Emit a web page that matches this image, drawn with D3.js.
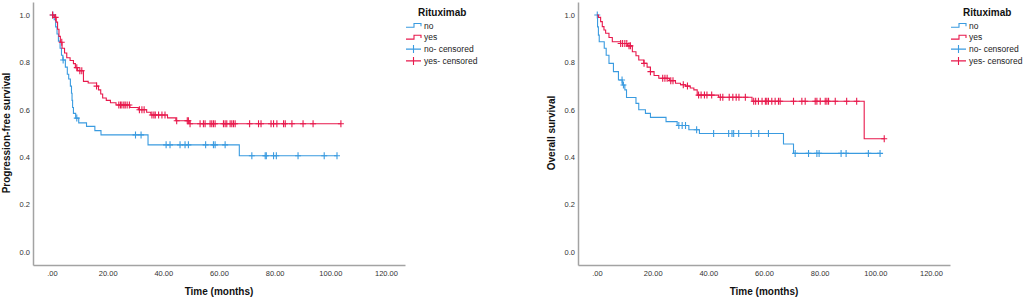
<!DOCTYPE html>
<html><head><meta charset="utf-8">
<script src="https://cdn.jsdelivr.net/npm/d3@7"></script>
<style>body{margin:0;background:#fff;} svg{display:block;font-family:"Liberation Sans",Arial,sans-serif;}</style>
</head><body><svg id="c" width="1024" height="300"></svg>
<script>
// ---- tick labels / text ----
const xTicks = [0, 20, 40, 60, 80, 100, 120];
const yTicks = [0, 0.2, 0.4, 0.6, 0.8, 1.0];
const legendTitle = "Rituximab";
const legendLabels = ["no", "yes", "no- censored", "yes- censored"];
const yTitles = ["Progression-free survival", "Overall survival"];
const xTitle = "Time (months)";

// ---- Progression-free survival, Rituximab = no ----
const pfsNoT = [0, 0.8, 1.3, 1.8, 2.3, 2.9, 3.4, 3.9, 4.8, 5.5, 6.0, 6.6, 7.0, 7.2, 7.4, 7.7, 8.5, 9.6, 12.4, 15.4, 17.6, 34.5, 67.3];
const pfsNoS = [1.0, 0.98, 0.95, 0.92, 0.89, 0.86, 0.83, 0.81, 0.78, 0.75, 0.73, 0.70, 0.67, 0.64, 0.61, 0.585, 0.565, 0.545, 0.53, 0.512, 0.494, 0.452, 0.406];
const pfsNoC = [0.3, 4.0, 8.9, 30.0, 32.0, 41.0, 42.4, 46.0, 47.8, 49.0, 55.2, 58.0, 58.6, 62.2, 71.8, 76.6, 77.0, 79.6, 80.6, 88.4, 97.8, 102.4];

// ---- Progression-free survival, Rituximab = yes ----
const pfsYesT = [0, 0.8, 1.5, 2.0, 2.5, 3.0, 3.6, 4.5, 5.3, 6.5, 7.7, 8.4, 9.2, 11.3, 13.0, 16.0, 16.7, 17.5, 18.2, 19.5, 21.0, 23.0, 28.0, 31.0, 34.0, 35.5, 41.5, 44.5, 49.5];
const pfsYesS = [1.0, 0.99, 0.97, 0.94, 0.91, 0.885, 0.86, 0.84, 0.82, 0.808, 0.795, 0.778, 0.765, 0.72, 0.713, 0.70, 0.684, 0.667, 0.65, 0.64, 0.63, 0.62, 0.61, 0.60, 0.59, 0.578, 0.566, 0.554, 0.541];
const pfsYesC = [0.2, 1.3, 3.5, 8.9, 10.0, 10.7, 16.0, 24.0, 24.6, 25.1, 25.8, 26.3, 27.0, 27.8, 31.4, 32.3, 33.1, 35.9, 36.6, 37.1, 38.3, 39.5, 40.6, 44.8, 48.6, 49.0, 49.6, 53.2, 54.4, 55.0, 56.8, 57.4, 58.0, 58.6, 61.6, 62.2, 62.8, 64.0, 64.6, 65.2, 65.8, 71.0, 74.2, 75.1, 78.7, 79.6, 80.8, 83.2, 83.8, 86.2, 90.2, 93.8, 103.8];

// ---- Overall survival, Rituximab = no ----
const osNoT = [0, 0.2, 0.5, 0.8, 2.6, 3.3, 4.3, 5.9, 7.7, 9.1, 10.0, 10.6, 14.0, 15.0, 17.4, 19.2, 24.8, 28.8, 33.0, 36.8, 67.0, 70.6];
const osNoS = [1.0, 0.95, 0.915, 0.887, 0.86, 0.83, 0.796, 0.761, 0.726, 0.705, 0.684, 0.652, 0.627, 0.60, 0.585, 0.568, 0.55, 0.534, 0.516, 0.50, 0.456, 0.416];
const osNoC = [0.1, 9.0, 9.5, 29.4, 30.6, 31.8, 35.8, 41.9, 47.3, 48.5, 49.1, 50.9, 55.4, 58.1, 61.6, 71.2, 76.0, 79.0, 79.8, 87.7, 89.5, 97.5, 101.7];

// ---- Overall survival, Rituximab = yes ----
const osYesT = [0, 0.5, 1.3, 1.9, 2.5, 3.1, 4.3, 5.5, 8.5, 11.0, 12.7, 14.0, 15.0, 16.8, 18.0, 19.2, 20.5, 22.2, 26.0, 28.2, 30.0, 31.8, 33.5, 34.8, 36.0, 43.7, 55.7, 96.0];
const osYesS = [1.0, 0.99, 0.972, 0.951, 0.937, 0.923, 0.905, 0.887, 0.88, 0.87, 0.845, 0.828, 0.81, 0.796, 0.78, 0.761, 0.745, 0.733, 0.723, 0.712, 0.706, 0.70, 0.692, 0.684, 0.662, 0.653, 0.636, 0.478];
const osYesC = [8.5, 9.2, 10.0, 10.7, 11.5, 12.0, 16.9, 19.2, 23.6, 24.4, 25.2, 26.5, 27.3, 31.0, 32.5, 36.5, 37.4, 38.6, 39.5, 41.2, 44.3, 45.2, 47.5, 48.8, 50.0, 51.0, 53.3, 56.3, 57.0, 58.0, 59.3, 60.5, 61.0, 61.6, 62.8, 64.0, 65.2, 65.8, 70.6, 73.6, 74.8, 78.4, 79.0, 80.2, 82.0, 82.6, 83.2, 85.6, 89.7, 93.3, 103.2];

const BLUE = "#3a9be0", RED = "#e8194c", AXIS = "#a3a3a3";

const panels = [
  { yTitle: yTitles[0], series: [
    { t: pfsNoT, s: pfsNoS, c: pfsNoC, color: BLUE },
    { t: pfsYesT, s: pfsYesS, c: pfsYesC, color: RED } ] },
  { yTitle: yTitles[1], series: [
    { t: osNoT, s: osNoS, c: osNoC, color: BLUE },
    { t: osYesT, s: osYesS, c: osYesC, color: RED } ] }
];

const svg = d3.select("#c");
const PANEL_W = 545;

panels.forEach((p, i) => {
  const ox = i * PANEL_W;
  const g = svg.append("g").attr("transform", `translate(${ox},0)`);
  const x = d3.scaleLinear().domain([-6.83, 126.83]).range([33, 405]);
  const y = d3.scaleLinear().domain([-0.055, 1.055]).range([265, 2]);

  const xa = g.append("g").attr("transform", "translate(0,265)")
    .call(d3.axisBottom(x).tickValues(xTicks).tickSize(0).tickPadding(6)
      .tickFormat(d => d === 0 ? ".00" : d3.format(".2f")(d)));
  const ya = g.append("g").attr("transform", "translate(33,0)")
    .call(d3.axisLeft(y).tickValues(yTicks).tickSize(0).tickPadding(3)
      .tickFormat(d3.format(".1f")));
  [xa, ya].forEach(a => {
    a.select(".domain").attr("stroke", AXIS).attr("stroke-width", 1.5);
    a.selectAll("text").attr("font-size", "7.5px").attr("fill", "#333").attr("font-family", "Liberation Sans, Arial, sans-serif");
  });

  // curves
  p.series.forEach(s => {
    const pts = s.t.map((t, k) => [t, s.s[k]]);
    const end = Math.max(d3.max(s.c), d3.max(s.t));
    pts.push([end, s.s[s.s.length - 1]]);
    const line = d3.line().x(d => x(d[0])).y(d => y(d[1])).curve(d3.curveStepAfter);
    g.append("path").attr("d", line(pts)).attr("fill", "none")
      .attr("stroke", s.color).attr("stroke-width", 1.1);
    const surv = c => { let v = s.s[0]; s.t.forEach((t, k) => { if (t <= c) v = s.s[k]; }); return v; };
    g.append("g").selectAll("path").data(s.c).join("path")
      .attr("d", c => { const cx = x(c), cy = y(surv(c)); return `M${cx - 3},${cy}h6M${cx},${cy - 3.5}v7`; })
      .attr("stroke", s.color).attr("stroke-width", 1.1).attr("fill", "none");
  });

  // axis titles
  g.append("text").attr("x", 219).attr("y", 295).attr("text-anchor", "middle")
    .attr("font-size", "10px").attr("font-weight", "bold").attr("fill", "#111").text(xTitle);
  g.append("text").attr("transform", "translate(10,133) rotate(-90)").attr("text-anchor", "middle")
    .attr("font-size", "10px").attr("font-weight", "bold").attr("fill", "#111").text(p.yTitle);

  // legend
  const lg = g.append("g");
  lg.append("text").attr("x", 418).attr("y", 15.5).attr("font-size", "10px")
    .attr("font-weight", "bold").attr("fill", "#111").text(legendTitle);
  const colors = [BLUE, RED, BLUE, RED];
  legendLabels.forEach((lab, k) => {
    const cy = 25.5 + k * 11.8;
    if (k < 2) {
      lg.append("path").attr("d", `M406,${cy + 1.8}H414V${cy - 2}H421V${cy + 0.8}`)
        .attr("fill", "none").attr("stroke", colors[k]).attr("stroke-width", 1.1);
    } else {
      lg.append("path").attr("d", `M406,${cy}H421M413.5,${cy - 4}V${cy + 4}`)
        .attr("fill", "none").attr("stroke", colors[k]).attr("stroke-width", 1.1);
    }
    lg.append("text").attr("x", 424).attr("y", cy + 3).attr("font-size", "8.5px")
      .attr("fill", "#222").text(lab);
  });
});
</script></body></html>
